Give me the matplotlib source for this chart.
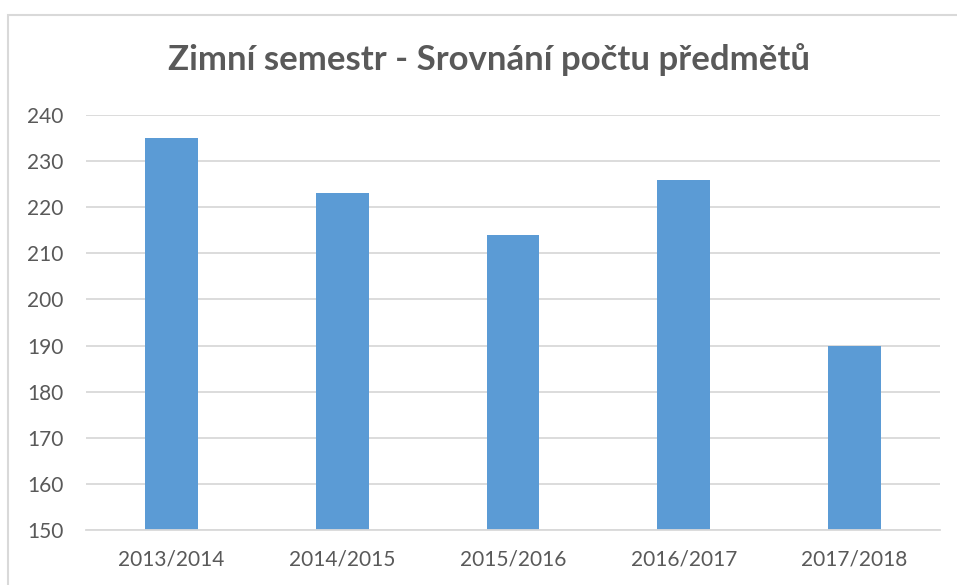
import matplotlib
matplotlib.use("Agg")
import matplotlib.pyplot as plt
from matplotlib.patches import Rectangle

semesters = ["2013/2014", "2014/2015", "2015/2016", "2016/2017", "2017/2018"]
subjects = [235, 223, 214, 226, 190]
yticks = [150, 160, 170, 180, 190, 200, 210, 220, 230, 240]

plt.rcParams["font.family"] = ["Lato", "DejaVu Sans"]
text_col = "#595959"
grid_col = "#d9d9d9"

fig = plt.figure(figsize=(9.57, 5.85), dpi=100)
ax = fig.add_axes([86 / 957, 1 - 530 / 585, (940 - 86) / 957, (530 - 115) / 585])

x = range(len(semesters))
ax.bar(x, subjects, width=0.31, color="#5b9bd5", zorder=2)
ax.set_ylim(150, 240)
ax.set_xlim(-0.5, len(semesters) - 0.5)
ax.set_yticks(yticks)
ax.set_xticks(list(x))
ax.set_xticklabels(semesters)
ax.grid(axis="y", color=grid_col, linewidth=1.3, zorder=0)
ax.tick_params(length=0, labelsize=15, colors=text_col)
ax.tick_params(axis="x", pad=14)
ax.tick_params(axis="y", pad=16)
for s in ["top", "right", "left"]:
    ax.spines[s].set_visible(False)
ax.spines["bottom"].set_color(grid_col)
ax.spines["bottom"].set_linewidth(1.3)

fig.text(0.511, 1 - 60 / 585, "Zimní semestr - Srovnání počtu předmětů",
         ha="center", va="center", fontsize=25, fontweight="bold", color=text_col)

# chart border (cropped on the right and bottom)
fig.patches.append(Rectangle((8 / 957, -0.1), 1.2, 1.1 - 15 / 585,
                             transform=fig.transFigure, fill=False,
                             edgecolor="#d9d9d9", linewidth=1.5))

fig.savefig("out.png", dpi=100)
